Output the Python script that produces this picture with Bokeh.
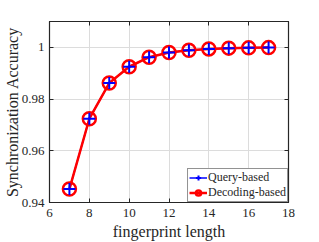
from bokeh.plotting import figure
from bokeh.models import Range1d, LinearAxis, Legend, LegendItem, FixedTicker
from bokeh.embed import file_html
from bokeh.resources import INLINE

lengths = [7, 8, 9, 10, 11, 12, 13, 14, 15, 16, 17]
query_acc = [0.9452, 0.9724, 0.9862, 0.9925, 0.9962, 0.9980, 0.9989, 0.9994, 0.9997, 0.9998, 0.9999]
decoding_acc = [0.9452, 0.9724, 0.9862, 0.9925, 0.9962, 0.9980, 0.9989, 0.9994, 0.9997, 0.9998, 0.9999]
x_ticks = [6, 8, 10, 12, 14, 16, 18]
y_ticks = [0.94, 0.96, 0.98, 1.0]
y_tick_labels = {0.94: "0.94", 0.96: "0.96", 0.98: "0.98", 1.0: "1"}

FONT = "'Liberation Serif', 'Times New Roman', 'DejaVu Serif', serif"
TXT = "#262626"

p = figure(frame_width=239, frame_height=181, min_border_left=49, min_border_right=24,
           min_border_top=21, min_border_bottom=40,
           output_backend="svg", toolbar_location=None,
           x_range=Range1d(6, 18), y_range=Range1d(0.94, 1.01))

p.outline_line_color = TXT
p.outline_line_width = 1.2
p.background_fill_color = "white"
p.border_fill_color = "white"

for ax in (p.xaxis[0], p.yaxis[0]):
    ax.major_label_text_font = FONT
    ax.major_label_text_font_size = "13px"
    ax.major_label_text_color = TXT
    ax.axis_label_text_font = FONT
    ax.axis_label_text_font_size = "16px"
    ax.axis_label_text_font_style = "normal"
    ax.axis_label_text_color = TXT
    ax.major_tick_in = 4
    ax.major_tick_out = 0
    ax.minor_tick_in = 0
    ax.minor_tick_out = 0
    ax.axis_line_color = TXT
    ax.major_tick_line_color = TXT

p.xaxis[0].ticker = FixedTicker(ticks=x_ticks)
p.yaxis[0].ticker = FixedTicker(ticks=y_ticks)
p.yaxis[0].major_label_overrides = y_tick_labels
p.xaxis[0].axis_label = "fingerprint length"
p.yaxis[0].axis_label = "Synchronization Accuracy"
p.xaxis[0].major_label_standoff = 6
p.yaxis[0].major_label_standoff = 5
p.xaxis[0].axis_label_standoff = 3
p.yaxis[0].axis_label_standoff = -2

for loc, ticks in (("right", y_ticks), ("above", x_ticks)):
    a = LinearAxis(ticker=FixedTicker(ticks=ticks),
                   major_label_overrides={t: "" for t in ticks},
                   major_tick_in=4, major_tick_out=0, minor_tick_in=0, minor_tick_out=0,
                   axis_line_color=TXT, major_tick_line_color=TXT, major_label_standoff=0)
    p.add_layout(a, loc)

p.grid.grid_line_color = "#dcdcdc"
p.grid.grid_line_width = 1
p.xgrid.ticker = FixedTicker(ticks=x_ticks)
p.ygrid.ticker = FixedTicker(ticks=y_ticks)

bl = p.line(lengths, query_acc, line_color="blue", line_width=1.5)
rl = p.line(lengths, decoding_acc, line_color="red", line_width=2.5)
rc = p.scatter(lengths, decoding_acc, marker="circle", size=13, fill_color=None,
               line_color="red", line_width=2.5)
bc = p.scatter(lengths, query_acc, marker="cross", size=12, line_color="blue", line_width=2)

legend = Legend(items=[LegendItem(label="Query-based", renderers=[bl, bc]),
                       LegendItem(label="Decoding-based", renderers=[rl, rc])],
                location="bottom_right")
legend.label_text_font = FONT
legend.label_text_font_size = "12px"
legend.label_text_color = TXT
legend.border_line_color = TXT
legend.border_line_width = 1.2
legend.margin = 0
legend.padding = 1
legend.spacing = 0
legend.glyph_width = 18
legend.glyph_height = 13
legend.label_height = 13
legend.label_standoff = 1
legend.label_text_line_height = 1.0
legend.background_fill_alpha = 1
p.add_layout(legend)

open("out.html", "w").write(file_html(p, INLINE))
